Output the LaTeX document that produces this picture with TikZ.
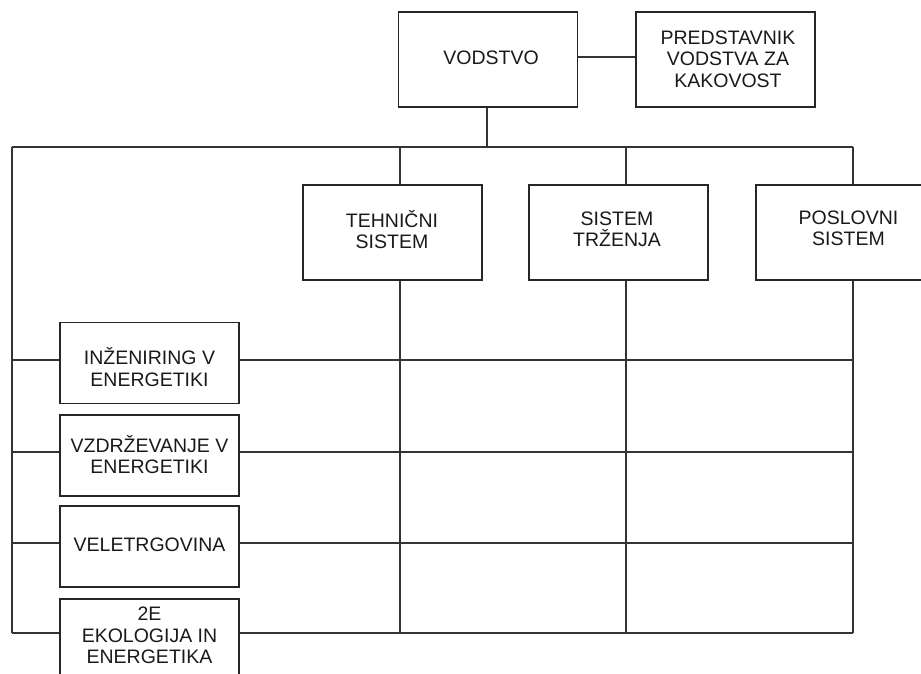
\documentclass[tikz,border=0pt]{standalone}
\usepackage{fontspec}
\setmainfont{Liberation Sans}
\begin{document}
\begin{tikzpicture}[x=1pt,y=-1pt,
  box/.style={draw=black!85,line width=1.5pt,inner sep=0pt,minimum width=179pt},
  topbox/.style={box,minimum height=95pt},
  sidebox/.style={box,minimum height=81pt},
  lbl/.style={align=center,inner sep=0pt,text=black!90,font=\fontsize{19.5}{21.5}\selectfont},
  wire/.style={draw=black!80,line width=1.3pt}]
\path[use as bounding box] (0,0) rectangle (921,674);
\clip (0,0) rectangle (921,674);

% management level
\node[topbox] (vod) at (488,59.5) {};
\node[lbl] (vodt) at (491,58) {VODSTVO};
\node[topbox] (pred) at (725.5,59.5) {};
\node[lbl] (predt) at (728,59) {PREDSTAVNIK\\VODSTVA ZA\\KAKOVOST};

% systems
\node[topbox] (teh) at (392.5,232.5) {};
\node[lbl] (teht) at (392,229.5) {TEHNIČNI\\SISTEM};
\node[topbox] (trz) at (618.5,232.5) {};
\node[lbl] (trzt) at (617,229.5) {SISTEM\\TRŽENJA};
\node[box,minimum width=185pt,minimum height=95pt] (pos) at (848.5,232.5) {};
\node[lbl] (post) at (848.5,228.5) {POSLOVNI\\SISTEM};

% business units
\node[sidebox] (inz) at (149.25,363) {};
\node[lbl] (inzt) at (149.5,367) {INŽENIRING V\\ENERGETIKI};
\node[sidebox] (vzd) at (149.25,455.5) {};
\node[lbl] (vzdt) at (149.5,454.5) {VZDRŽEVANJE V\\ENERGETIKI};
\node[sidebox] (vel) at (149.25,546.5) {};
\node[lbl] (velt) at (149.5,545) {VELETRGOVINA};
\node[sidebox] (eko) at (149.25,639.5) {};
\node[lbl] (ekot) at (149.5,635.5) {2E\\EKOLOGIJA IN\\ENERGETIKA};

% bus coordinates
\coordinate (busL) at (12,147);
\coordinate (busV) at (487,147);
\coordinate (busT) at (400,147);
\coordinate (busS) at (626,147);
\coordinate (busP) at (853,147);
\coordinate (endL) at (12,633);

% connectors
\draw[wire] (vod.east |- 0,57) -- (pred.west |- 0,57);
\draw[wire] (vod.south -| busV) -- (busV);
\draw[wire] (busL) -- (busP);
\draw[wire] (busL) -- (endL);
\draw[wire] (busT) -- (teh.north -| busT);
\draw[wire] (busS) -- (trz.north -| busS);
\draw[wire] (busP) -- (pos.north -| busP);

\draw[wire] (teh.south -| busT) -- (busT |- endL);
\draw[wire] (trz.south -| busS) -- (busS |- endL);
\draw[wire] (pos.south -| busP) -- (busP |- endL);

\foreach \n/\y in {inz/360,vzd/452,vel/543,eko/633}{
  \draw[wire] (12,\y) -- (\n.west |- 0,\y);
  \draw[wire] (\n.east |- 0,\y) -- (853,\y);
}
\end{tikzpicture}
\end{document}
